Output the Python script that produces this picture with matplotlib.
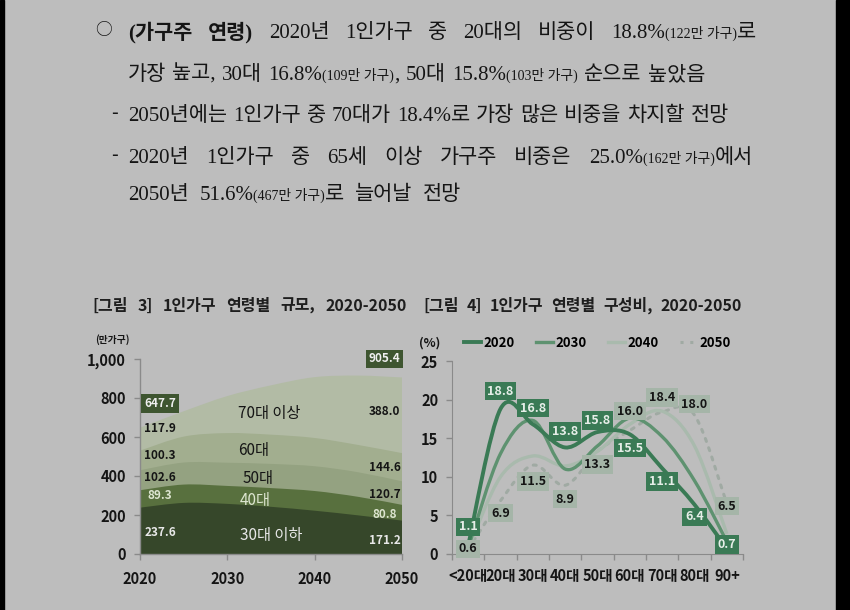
import numpy as np
import matplotlib
matplotlib.use('Agg')
import matplotlib.pyplot as plt
from matplotlib.path import Path
from matplotlib.patches import PathPatch, Rectangle
from matplotlib.lines import Line2D
from matplotlib.transforms import IdentityTransform

SANS = ['Noto Sans CJK KR', 'DejaVu Sans']
BODY = ['Liberation Serif', 'Noto Sans CJK KR']
plt.rcParams['font.family'] = SANS

W, H = 850, 610
BG = '#bdbdbd'
INK = '#151515'

# --- 데이터: [그림 3] 1인가구 연령별 규모 (만가구) ---
years = [2020, 2025, 2030, 2035, 2040, 2045, 2050]
under30 = [237.6, 262, 257, 242, 222, 198, 171.2]
age40 = [89.3, 94, 92, 96, 101, 95, 80.8]
age50 = [102.6, 113, 119, 124, 127, 126, 120.7]
age60 = [100.3, 133, 152, 150, 145, 140, 144.6]
over70 = [117.9, 130, 190, 253, 312, 356, 388.0]
group_names = ['30대 이하', '40대', '50대', '60대', '70대 이상']
total_2020 = '647.7'
total_2050 = '905.4'

# --- 데이터: [그림 4] 1인가구 연령별 구성비 (%) ---
age_cats = ['<20대', '20대', '30대', '40대', '50대', '60대', '70대', '80대', '90+']
share_2020 = [1.1, 18.8, 16.8, 13.8, 15.8, 15.5, 11.1, 6.4, 0.7]
share_2030 = [0.8, 13.0, 17.3, 11.0, 14.0, 17.6, 15.2, 9.5, 1.6]
share_2040 = [0.7, 10.0, 12.7, 11.4, 13.3, 16.8, 18.5, 14.0, 2.6]
share_2050 = [0.6, 6.9, 11.5, 8.9, 13.3, 16.0, 18.4, 18.0, 6.5]
series_names = ['2020', '2030', '2040', '2050']

# --- 본문 텍스트 (기준선 y, 시작 x, 끝 x, 최대 간격, 토큰) ---
S, s = 15, 10
body_lines = [
    (38, 128, 756, 99, [[('(가구주', S, True)], [('연령)', S, True)], [('2020년', S, False)],
                        [('1인가구', S, False)], [('중', S, False)], [('20대의', S, False)],
                        [('비중이', S, False)],
                        [('18.8%', S, False), ('(122만 가구)', s, False), ('로', S, False)]]),
    (80, 128, 705, 11, [[('가장', S, False)], [('높고,', S, False)], [('30대', S, False)],
                        [('16.8%', S, False), ('(109만 가구)', s, False), (',', S, False)],
                        [('50대', S, False)], [('15.8%', S, False), ('(103만 가구)', s, False)],
                        [('순으로', S, False)], [('높았음', S, False)]]),
    (121, 128, 729, 11, [[('2050년에는', S, False)], [('1인가구', S, False)], [('중', S, False)],
                         [('70대가', S, False)], [('18.4%로', S, False)], [('가장', S, False)],
                         [('많은', S, False)], [('비중을', S, False)], [('차지할', S, False)],
                         [('전망', S, False)]]),
    (163, 128, 753, 99, [[('2020년', S, False)], [('1인가구', S, False)], [('중', S, False)],
                         [('65세', S, False)], [('이상', S, False)], [('가구주', S, False)],
                         [('비중은', S, False)],
                         [('25.0%', S, False), ('(162만 가구)', s, False), ('에서', S, False)]]),
    (200, 128, 461, 11, [[('2050년', S, False)],
                         [('51.6%', S, False), ('(467만 가구)', s, False), ('로', S, False)],
                         [('늘어날', S, False)], [('전망', S, False)]]),
]

fig = plt.figure(figsize=(W / 100, H / 100), dpi=100, facecolor=BG)
renderer = fig.canvas.get_renderer()


def put_line(y, x0, x1, tokens, family=BODY, color=INK, max_gap=99):
    # 토큰을 픽셀 좌표에 배치하고 양쪽 정렬 (간격 상한 있음)
    placed = []
    for tok in tokens:
        pieces, w = [], 0
        for txt, size, bold in tok:
            t = fig.text(0, 0, txt, transform=IdentityTransform(), fontsize=size,
                         fontweight='bold' if bold else 'normal', family=family,
                         va='baseline', ha='left', color=color)
            pieces.append((t, w))
            w += t.get_window_extent(renderer).width
        placed.append((pieces, w))
    total = sum(w for _, w in placed)
    gap = min((x1 - x0 - total) / max(len(placed) - 1, 1), max_gap)
    x = x0
    for pieces, w in placed:
        for t, off in pieces:
            t.set_position((x + off, H - y))
        x += w + gap


for y, x0, x1, mg, toks in body_lines:
    put_line(y, x0, x1, toks, max_gap=mg)
fig.text(103, H - 31, '○', transform=IdentityTransform(), fontsize=12, ha='center',
         va='center', color=INK, family=SANS)
fig.text(114, H - 114, '-', transform=IdentityTransform(), fontsize=14, ha='center',
         va='center', color=INK, family=SANS)
fig.text(114, H - 156, '-', transform=IdentityTransform(), fontsize=14, ha='center',
         va='center', color=INK, family=SANS)

# 그림 제목
T = 11.5
put_line(311, 92, 407, [[('[그림', T, True)], [('3]', T, True)], [('1인가구', T, True)],
                        [('연령별', T, True)], [('규모,', T, True)],
                        [('2020-2050', T, True)]], family=SANS, color='#1e1e1e')
put_line(311, 423, 742, [[('[그림', T, True)], [('4]', T, True)], [('1인가구', T, True)],
                         [('연령별', T, True)], [('구성비,', T, True)],
                         [('2020-2050', T, True)]], family=SANS, color='#1e1e1e')

# 검은 테두리
fig.add_artist(Rectangle((0, 0), 4 / W, 1, transform=fig.transFigure, color='black'))
fig.add_artist(Rectangle((836 / W, 0), 14 / W, 1, transform=fig.transFigure, color='black'))


def smooth_path(xs, ys):
    xs = np.asarray(xs, float)
    ys = np.asarray(ys, float)
    n = len(xs)
    verts = [(xs[0], ys[0])]
    codes = [Path.MOVETO]
    for i in range(n - 1):
        p0 = np.array([xs[max(i - 1, 0)], ys[max(i - 1, 0)]])
        p1 = np.array([xs[i], ys[i]])
        p2 = np.array([xs[i + 1], ys[i + 1]])
        p3 = np.array([xs[min(i + 2, n - 1)], ys[min(i + 2, n - 1)]])
        c1 = p1 + (p2 - p0) / 6
        c2 = p2 - (p3 - p1) / 6
        verts += [tuple(c1), tuple(c2), tuple(p2)]
        codes += [Path.CURVE4] * 3
    return verts, codes


# --- [그림 3] 누적 영역 ---
ax1 = fig.add_axes([140 / W, 1 - 554 / H, 262 / W, 195 / H])
ax1.set_facecolor('none')
layers = [under30, age40, age50, age60, over70]
colors3 = ['#36472a', '#58703e', '#94a281', '#a2ae8f', '#b2bba5']
cum = np.cumsum(np.array(layers, float), axis=0)
for k in range(len(layers) - 1, -1, -1):
    v, c = smooth_path(years, cum[k])
    v += [(years[-1], 0), (years[0], 0), (years[0], 0)]
    c += [Path.LINETO, Path.LINETO, Path.CLOSEPOLY]
    ax1.add_patch(PathPatch(Path(v, c), fc=colors3[k], ec='none'))

ax1.set_xlim(2020, 2050)
ax1.set_ylim(0, 1000)
ax1.set_xticks([2020, 2030, 2040, 2050])
ax1.set_xticklabels(['2020', '2030', '2040', '2050'], fontsize=10.5, fontweight='bold')
ax1.set_yticks([0, 200, 400, 600, 800, 1000])
ax1.set_yticklabels(['0', '200', '400', '600', '800', '1,000'], fontsize=10.5, fontweight='bold')
for sp in ['top', 'right']:
    ax1.spines[sp].set_visible(False)
for sp in ['left', 'bottom']:
    ax1.spines[sp].set_color('#8a8a8a')
    ax1.spines[sp].set_linewidth(1)
ax1.tick_params(colors='#8a8a8a', labelcolor=INK, length=4, width=1, pad=6)
ax1.tick_params(axis='x', pad=8)
ax1.text(-0.105, 1.1, '(만가구)', transform=ax1.transAxes, fontsize=7, fontweight='bold',
         color=INK, ha='center', va='center')

lab_kw = dict(fontsize=8.5, fontweight='bold', ha='center', va='center')
box3 = dict(boxstyle='square,pad=0.25', fc='#3e5530', ec='none')
left_vals = [under30[0], age40[0], age50[0], age60[0], over70[0]]
left_y = [108, 300, 392, 505, 645]
right_vals = [under30[-1], age40[-1], age50[-1], age60[-1], over70[-1]]
right_y = [70, 201, 304, 443, 732]
text_col = ['#e8e8e8', '#dde5d0', INK, INK, INK]
for v, yy, tc in zip(left_vals, left_y, text_col):
    ax1.text(2022.3, yy, f'{v:.1f}', color=tc, **lab_kw)
for v, yy, tc in zip(right_vals, right_y, text_col):
    ax1.text(2048.0, yy, f'{v:.1f}', color=tc, **lab_kw)
ax1.text(2022.3, 773, total_2020, color='#eeeeee', bbox=box3, **lab_kw)
ax1.text(2048.0, 1000, total_2050, color='#eeeeee', bbox=box3, clip_on=False, **lab_kw)
mid_y = [93, 273, 387, 531, 722]
mid_x = [2035.0, 2033.2, 2033.5, 2033.0, 2034.8]
for name, xx, yy, tc in zip(group_names, mid_x, mid_y, text_col):
    ax1.text(xx, yy, name, color=tc, fontsize=11, fontweight='medium', ha='center', va='center')

# --- [그림 4] 구성비 곡선 ---
ax2 = fig.add_axes([452 / W, 1 - 554 / H, 291 / W, 193 / H])
ax2.set_facecolor('none')
xs = np.arange(len(age_cats))
styles = [
    dict(ec='#3a7a55', lw=2.8),
    dict(ec='#5e9270', lw=2.4),
    dict(ec='#a9baad', lw=2.4),
    dict(ec='#a0aaa3', lw=2.2, ls=(0, (1, 2.2)), capstyle='round'),
]
all_series = [share_2020, share_2030, share_2040, share_2050]
for vals, st in zip(all_series[::-1], styles[::-1]):
    v, c = smooth_path(xs, vals)
    ax2.add_patch(PathPatch(Path(v, c), fill=False, **st))

ax2.set_xlim(-0.5, len(age_cats) - 0.5)
ax2.set_ylim(0, 25)
ax2.set_yticks([0, 5, 10, 15, 20, 25])
ax2.set_yticklabels(['0', '5', '10', '15', '20', '25'], fontsize=10.5, fontweight='bold')
ax2.set_xticks(np.arange(-0.5, len(age_cats), 1))
ax2.set_xticklabels([])
ax2.set_xticks(xs, minor=True)
ax2.set_xticklabels(age_cats, minor=True, fontsize=10.5, fontweight='bold')
ax2.tick_params(axis='x', which='minor', length=0, pad=10)
for sp in ['top', 'right']:
    ax2.spines[sp].set_visible(False)
for sp in ['left', 'bottom']:
    ax2.spines[sp].set_color('#8a8a8a')
ax2.tick_params(which='major', colors='#8a8a8a', labelcolor=INK, length=4, width=1, pad=6)
ax2.tick_params(axis='x', which='minor', labelcolor=INK)

# 값 라벨: 2020 (진한 상자), 2050 (연한 상자)
off_2020 = [2.4, 2.3, 2.1, 2.1, 1.5, -1.8, -1.7, -1.6, 0.5]
off_2050 = [0.05, -1.6, -2.1, -1.8, -1.7, 2.5, 1.9, 1.4, -0.3]
box_2020 = dict(boxstyle='square,pad=0.22', fc='#3a7a55', ec='none')
box_2050 = dict(boxstyle='square,pad=0.22', fc='#a5b5a8', ec='none')
lab4 = dict(lab_kw, fontsize=9)
for i, (v, o) in enumerate(zip(share_2020, off_2020)):
    ax2.text(xs[i], v + o, f'{v:.1f}', color='#e6eee8', bbox=box_2020, clip_on=False, **lab4)
for i, (v, o) in enumerate(zip(share_2050, off_2050)):
    ax2.text(xs[i], v + o, f'{v:.1f}', color=INK, bbox=box_2050, clip_on=False, **lab4)

handles = [Line2D([], [], color=st['ec'], lw=st['lw'], ls=st.get('ls', '-')) for st in styles]
ax2.legend(handles, series_names, loc='center', bbox_to_anchor=(0.5, 1.095), ncol=4,
           frameon=False, handlelength=1.3, handletextpad=0.2, columnspacing=1.6,
           prop={'weight': 'bold', 'size': 9.5, 'family': SANS})
ax2.text(-0.075, 1.095, '(%)', transform=ax2.transAxes, fontsize=9, fontweight='bold',
         color=INK, ha='center', va='center')

fig.savefig('out.png', dpi=100, facecolor=BG)
